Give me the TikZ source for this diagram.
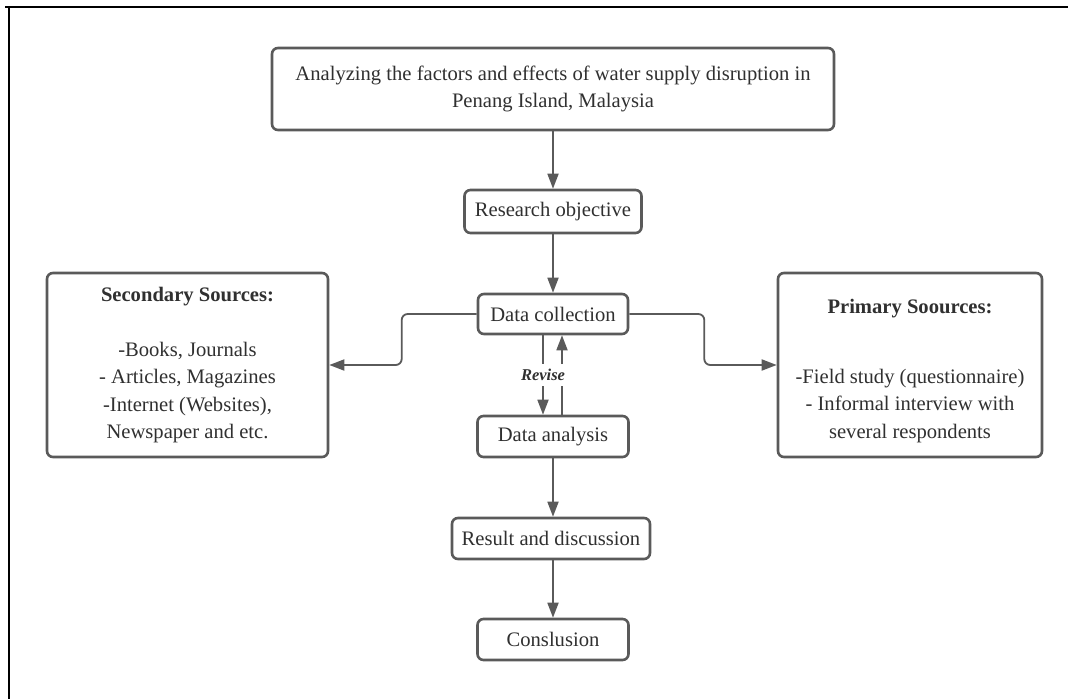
\documentclass[tikz,border=0pt]{standalone}
\usepackage{fontspec}
\setmainfont{Liberation Serif}
\usetikzlibrary{arrows.meta}
\definecolor{edge}{HTML}{5A5A5A}
\definecolor{txt}{HTML}{303030}
\tikzset{
  box/.style={draw=edge, line width=2.6pt, rounded corners=6pt, fill=white,
    text=txt, align=center, inner sep=0pt,
    font=\fontsize{20.6}{27.5}\selectfont},
  arr/.style={draw=edge, line width=1.8pt, -{Triangle[length=15pt,width=11pt]}},
  ln/.style={draw=edge, line width=1.8pt},
}
\begin{document}
\begin{tikzpicture}[x=1pt,y=-1pt]
\useasboundingbox (0,0) rectangle (1068,699);
% frame
\draw[black, line width=2.5pt] (5,7) -- (1068,7);
\draw[black, line width=2.5pt] (9,7) -- (9,699);

\node[box, minimum width=562pt, minimum height=82pt] (top) at (553,89)
  {Analyzing the factors and effects of water supply disruption in\\Penang Island, Malaysia};
\node[box, minimum width=177pt, minimum height=43pt] (ro) at (553,211.5) {Research objective};
\node[box, minimum width=150pt, minimum height=40pt] (dc) at (553,314) {Data collection};
\node[box, minimum width=151pt, minimum height=41pt] (da) at (553,436.5) {Data analysis};
\node[box, minimum width=198pt, minimum height=41pt] (rd) at (551,538.5) {Result and discussion};
\node[box, minimum width=151pt, minimum height=41pt] (cc) at (553,639.5) {Conslusion};

\node[box, minimum width=281pt, minimum height=184pt] (sec) at (187.5,365)
  {\textbf{Secondary Sources:}\\[27.5pt]-Books, Journals\\- Articles, Magazines\\-Internet (Websites),\\Newspaper and etc.};
\node[box, minimum width=264pt, minimum height=184pt] (pri) at (910,365)
  {\rule{0pt}{26pt}\textbf{Primary Soources:}\\[42pt]-Field study (questionnaire)\\- Informal interview with\\several respondents};

\node[text=txt, font=\fontsize{16.5}{20}\selectfont\bfseries\itshape, inner sep=5pt] (rv) at (543,375) {Revise};
\coordinate (u) at (562,375);

\draw[arr] (top.south) -- (ro.north);
\draw[arr] (ro.south) -- (dc.north);
\draw[arr, rounded corners=6pt] (dc.west) -- ++(-75,0) |- (sec.east);
\draw[arr, rounded corners=6pt] (dc.east) -- ++(75,0) |- (pri.west);
\draw[ln] (dc.south -| rv) -- (rv.north);
\draw[arr] (rv.south) -- (rv.south |- da.north);
\draw[ln] (da.north -| u) -- (u |- rv.south);
\draw[arr] (u |- rv.north) -- (dc.south -| u);
\draw[arr] (da.south) -- (rd.north -| da.south);
\draw[arr] (rd.south -| cc.north) -- (cc.north);
\end{tikzpicture}
\end{document}
